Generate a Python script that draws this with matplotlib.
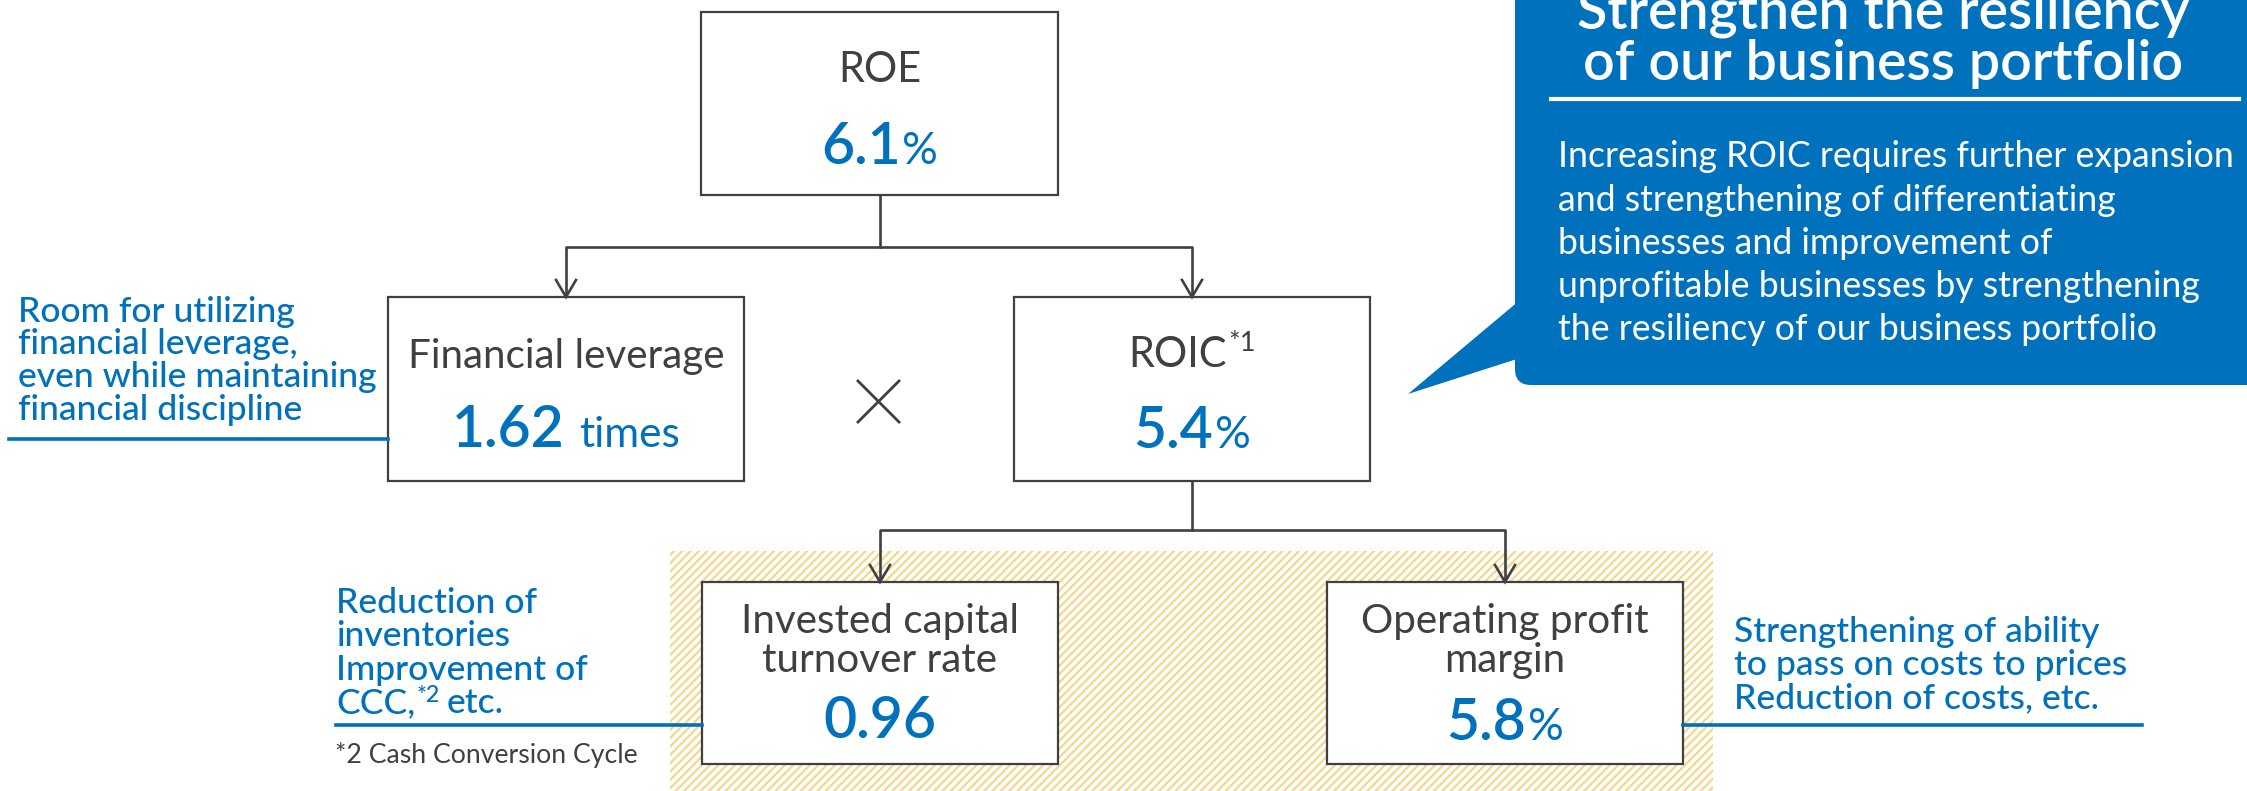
import matplotlib
matplotlib.use("Agg")
import matplotlib.pyplot as plt
from matplotlib.patches import Rectangle, FancyBboxPatch, Polygon

# ---------------- data ----------------
box_labels = ["ROE", "Financial leverage", "ROIC", "Invested capital\nturnover rate", "Operating profit\nmargin"]
box_label_notes = ["", "", "*1", "", ""]
box_values = ["6.1", "1.62", "5.4", "0.96", "5.8"]
box_units = ["%", "times", "%", "", "%"]

callout_title = ["Strengthen the resiliency", "of our business portfolio"]
callout_body = ["Increasing ROIC requires further expansion",
                "and strengthening of differentiating",
                "businesses and improvement of",
                "unprofitable businesses by strengthening",
                "the resiliency of our business portfolio"]
note_leverage = ["Room for utilizing", "financial leverage,", "even while maintaining", "financial discipline"]
note_turnover = ["Reduction of", "inventories", "Improvement of", "CCC,"]
note_margin = ["Strengthening of ability", "to pass on costs to prices", "Reduction of costs, etc."]
footnote = "*2 Cash Conversion Cycle"

BLUE = "#0071BC"
GRAY = "#404040"
HATCH = "#F5D88C"
FONT = ["Lato", "DejaVu Sans"]

W, H = 2247, 791
fig = plt.figure(figsize=(W / 100, H / 100), dpi=100)
ax = fig.add_axes([0, 0, 1, 1])
ax.set_xlim(0, W)
ax.set_ylim(H, 0)
ax.axis("off")
renderer = fig.canvas.get_renderer()

plt.rcParams["hatch.linewidth"] = 1.6

def txt(x, y, s, size, color, weight="normal", ha="left"):
    return ax.text(x, y, s, fontsize=size, color=color, fontweight=weight,
                   ha=ha, va="baseline", family=FONT, zorder=4)

def fit(s, target_px, weight="normal"):
    """font size (pt) so that string s is target_px wide"""
    t = txt(0, 0, s, 20, "k", weight)
    w = t.get_window_extent(renderer).width
    t.remove()
    return 20 * target_px / w

def rich(x, yb, parts, align="center"):
    """parts: (string, size, color, weight, dy, gap_before)"""
    objs, widths = [], []
    for s, size, color, weight, dy, gap in parts:
        t = txt(0, yb + dy, s, size, color, weight)
        objs.append(t)
        widths.append(t.get_window_extent(renderer).width)
    total = sum(widths) + sum(p[5] for p in parts)
    cur = x - total / 2 if align == "center" else x
    for t, w, p in zip(objs, widths, parts):
        cur += p[5]
        t.set_x(cur)
        cur += w

W_LAB = "normal"
W_NUM = "semibold"
W_NOTE = "medium"
W_TITLE = "semibold"

S_BIG = fit("ROE", 83)
S_LAB = fit("Financial leverage", 318)
S_NUM = fit("1.62", 113, W_NUM)
S_NOTE = fit("even while maintaining", 359, W_NOTE)
S_BODY = fit("Increasing ROIC requires further expansion", 679)
S_TITLE = fit("of our business portfolio", 600, W_TITLE)
S_FOOT = fit(footnote, 303)

# ---------------- hatched band ----------------
ax.add_patch(Rectangle((670, 551), 1043, 260, facecolor="white", edgecolor=HATCH,
                       hatch="////", linewidth=0, zorder=0))

# ---------------- boxes ----------------
boxes = [(701, 12, 357, 183), (388, 297, 356, 184), (1014, 297, 356, 184),
         (702, 582, 356, 182), (1327, 582, 356, 182)]
for (x0, y0, w, h) in boxes:
    ax.add_patch(Rectangle((x0, y0), w, h, facecolor="white", edgecolor=GRAY, linewidth=1.6, zorder=2))

label_size = [S_BIG, S_LAB, S_BIG, S_LAB, S_LAB]
label_base = [[82], [368], [367], [633, 672], [633, 672]]
value_base = [164, 447, 448, 738, 740]
for i, (x0, y0, w, h) in enumerate(boxes):
    xc = x0 + w / 2
    lines = box_labels[i].split("\n")
    for ln, yb in zip(lines, label_base[i]):
        if box_label_notes[i]:
            rich(xc, yb, [(ln, label_size[i], GRAY, W_LAB, 0, 0),
                          (box_label_notes[i], label_size[i] * 0.66, GRAY, W_LAB, -16, 2)])
        else:
            txt(xc, yb, ln, label_size[i], GRAY, W_LAB, ha="center")
    parts = [(box_values[i], S_NUM, BLUE, W_NUM, 0, 0)]
    if box_units[i] == "%":
        parts.append(("%", S_NUM * 0.78, BLUE, "normal", 0, 2))
    elif box_units[i]:
        parts.append((box_units[i], S_NUM * 0.74, BLUE, "normal", 0, 14))
    rich(xc, value_base[i], parts)

# ---------------- connectors ----------------
LW = 1.9
def chevron(x, ytop):
    ax.plot([x - 10, x, x + 10], [ytop - 17, ytop, ytop - 17], color=GRAY, lw=LW, zorder=3,
            solid_joinstyle="miter")

def tree(parent, left, right, ymid):
    px = parent[0] + parent[2] / 2
    lx = left[0] + left[2] / 2
    rx = right[0] + right[2] / 2
    ax.plot([px, px], [parent[1] + parent[3], ymid], color=GRAY, lw=LW, zorder=1)
    ax.plot([lx, lx, rx, rx], [left[1], ymid, ymid, right[1]], color=GRAY, lw=LW, zorder=1)
    chevron(lx, left[1])
    chevron(rx, right[1])

tree(boxes[0], boxes[1], boxes[2], 247)
tree(boxes[2], boxes[3], boxes[4], 530)

# multiplication sign
ax.plot([858, 899], [381, 422], color=GRAY, lw=2.0)
ax.plot([858, 899], [422, 381], color=GRAY, lw=2.0)

# ---------------- annotations ----------------
ULW = 2.6
for ln, yb in zip(note_leverage, [322, 354, 387, 420]):
    txt(18, yb, ln, S_NOTE, BLUE, W_NOTE)
ax.plot([9, 388], [439, 439], color=BLUE, lw=ULW)

for ln, yb in zip(note_turnover[:3], [613, 646, 680]):
    txt(336, yb, ln, S_NOTE, BLUE, W_NOTE)
rich(336, 713, [(note_turnover[3], S_NOTE, BLUE, W_NOTE, 0, 0),
                ("*2", S_NOTE * 0.66, BLUE, W_NOTE, -11, 1),
                ("etc.", S_NOTE, BLUE, W_NOTE, 0, 7)], align="left")
ax.plot([336, 702], [725, 725], color=BLUE, lw=ULW)
txt(335, 763, footnote, S_FOOT, GRAY)

for ln, yb in zip(note_margin, [642, 675, 708]):
    txt(1734, yb, ln, S_NOTE, BLUE, W_NOTE)
ax.plot([1683, 2142], [725, 725], color=BLUE, lw=ULW)

# ---------------- callout ----------------
ax.add_patch(FancyBboxPatch((1515, -40), 760, 425, boxstyle="round,pad=0,rounding_size=16",
                            facecolor=BLUE, edgecolor="none", zorder=1))
ax.add_patch(Polygon([(1520, 300), (1408, 394), (1520, 358)], closed=True,
                     facecolor=BLUE, edgecolor="none", zorder=1))
txt(1883, 28, callout_title[0], S_TITLE, "white", W_TITLE, ha="center")
txt(1883, 80, callout_title[1], S_TITLE, "white", W_TITLE, ha="center")
ax.plot([1551, 2239], [99, 99], color="white", lw=3.0)
for ln, yb in zip(callout_body, [167, 211, 254, 297, 340]):
    txt(1558, yb, ln, S_BODY, "white")

fig.savefig("out.png", dpi=100)
